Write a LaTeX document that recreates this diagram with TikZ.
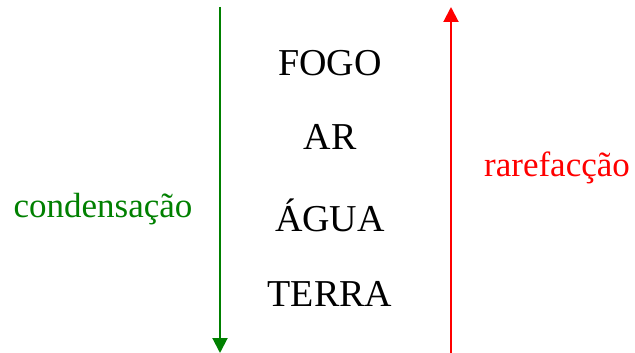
\documentclass[tikz,border=0pt]{standalone}
\usepackage{fontspec}
\setmainfont{Liberation Serif}
\usetikzlibrary{arrows.meta}
\definecolor{cgreen}{RGB}{0,128,0}
\definecolor{cred}{RGB}{255,0,0}
\begin{document}
\begin{tikzpicture}[x=1pt,y=-1pt,
  elem/.style={font=\fontsize{38}{40}\selectfont, inner sep=0pt, anchor=base},
  lab/.style={font=\fontsize{35}{38}\selectfont, inner sep=0pt, anchor=base},
  flow/.style={line width=2pt, -{Triangle[length=15pt,width=15pt]}}]
\useasboundingbox (0,0) rectangle (635,353);
\coordinate (gtop) at (220,7);
\coordinate (gbot) at (220,353);
\coordinate (rbot) at (451,353);
\coordinate (rtop) at (451,7);
\draw[flow, cgreen] (gtop) -- (gbot);
\draw[flow, cred] (rbot) -- (rtop);
\node[elem] (fogo) at (330,76) {FOGO};
\node[elem] (ar) at (330,149) {AR};
\node[elem] (agua) at (330,231) {ÁGUA};
\node[elem] (terra) at (330,306) {TERRA};
\node[lab, text=cgreen] (cond) at (103,217) {condensação};
\node[lab, text=cred] (rare) at (557,176) {rarefacção};
\end{tikzpicture}
\end{document}
